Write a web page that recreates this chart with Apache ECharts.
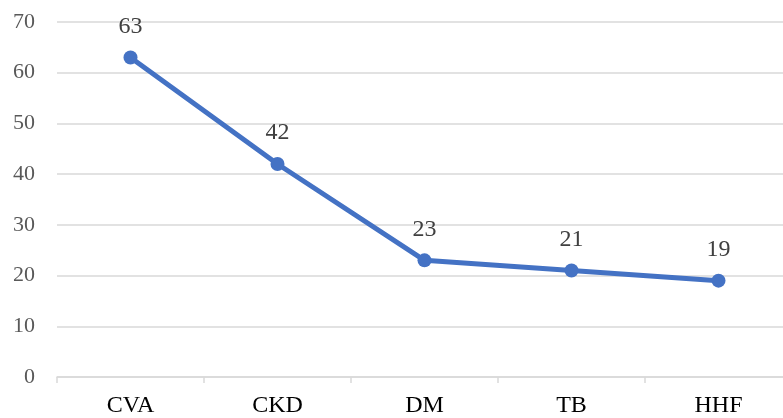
<!DOCTYPE html>
<html><head><meta charset="utf-8">
<script src="https://cdn.jsdelivr.net/npm/echarts@6/dist/echarts.min.js"></script>
<style>html,body{margin:0;padding:0;background:#fff;overflow:hidden}#c{width:793px;height:418px}</style>
</head><body><div id="c"></div>
<script>
const categories = ['CVA','CKD','DM','TB','HHF'];
const values = [63,42,23,21,19];
const yTicks = [0,10,20,30,40,50,60,70];
const chart = echarts.init(document.getElementById('c'));
chart.setOption({
  animation:false,
  grid:{left:57, top:22, right:1, bottom:39, containLabel:false},
  xAxis:{type:'category', data:categories, boundaryGap:true,
    axisLine:{lineStyle:{color:'#d9d9d9', width:1.5}},
    axisTick:{show:true, length:6, lineStyle:{color:'#d9d9d9', width:1.5}},
    axisLabel:{color:'#000', fontFamily:'Liberation Serif', fontSize:24, margin:17}},
  yAxis:{type:'value', min:0, max:70, interval:10,
    axisLine:{show:false}, axisTick:{show:false},
    splitLine:{lineStyle:{color:'#d9d9d9', width:1.5}},
    axisLabel:{color:'#595959', fontFamily:'Liberation Serif', fontSize:22, margin:22,
      formatter: v => yTicks.includes(v) ? String(v) : ''}},
  series:[{type:'line', data:values, symbol:'circle', symbolSize:14,
    lineStyle:{color:'#4472C4', width:5}, itemStyle:{color:'#4472C4'},
    label:{show:true, position:'top', distance:12, color:'#404040', fontFamily:'Liberation Serif', fontSize:24}}]
});
</script></body></html>
